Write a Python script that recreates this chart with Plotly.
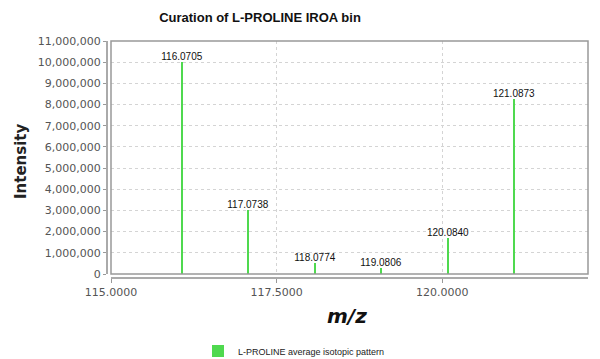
import plotly.graph_objects as go

mz = [116.0705, 117.0738, 118.0774, 119.0806, 120.0840, 121.0873]
intensity = [10000000, 3000000, 500000, 300000, 1700000, 8250000]
labels = ["116.0705", "117.0738", "118.0774", "119.0806", "120.0840", "121.0873"]
x_ticks = [115.0, 117.5, 120.0]
x_tick_labels = ["115.0000", "117.5000", "120.0000"]
y_ticks = list(range(0, 11000001, 1000000))
series_name = "L-PROLINE average isotopic pattern"
title = "Curation of L-PROLINE IROA bin"

fig = go.Figure()
fig.add_trace(go.Bar(
    x=mz, y=intensity, width=0.024, name=series_name,
    marker=dict(color="#4fd94f", line=dict(width=0)),
    text=labels, textposition="outside", cliponaxis=False, constraintext="none",
    textfont=dict(family="Liberation Sans, Arial", size=10, color="#111"),
    showlegend=True,
))

grid = dict(showgrid=True, gridcolor="#d4d4d4", griddash="dot", gridwidth=1)
fig.update_layout(
    width=600, height=359,
    margin=dict(l=107, r=12, t=41, b=81, autoexpand=False),
    paper_bgcolor="white", plot_bgcolor="white",
    title=dict(text="<b>" + title + "</b>", x=260/600, xanchor="center", y=1 - 17/359, yanchor="middle",
               font=dict(family="Liberation Sans, Arial", size=13, color="#111")),
    xaxis=dict(range=[115, 122.2], domain=[4/481, 1], anchor="free", position=0,
               tickvals=x_ticks, ticktext=x_tick_labels, ticks="outside", ticklen=4,
               tickcolor="#999", showline=True, linecolor="#aaa", linewidth=2,
               tickfont=dict(family="DejaVu Sans", size=11, color="#555"), zeroline=False, **grid),
    yaxis=dict(range=[0, 11000000], domain=[4/237, 1], anchor="free", position=0,
               tickvals=y_ticks, tickformat=",d", ticks="outside", ticklen=3,
               tickcolor="#999", showline=True, linecolor="#aaa", linewidth=2,
               tickfont=dict(family="DejaVu Sans", size=11, color="#555"), zeroline=False, **grid),
    legend=dict(orientation="h", x=294/600, xanchor="center", xref="container",
                y=8/359, yanchor="middle", yref="container", itemwidth=30,
                font=dict(family="Liberation Sans, Arial", size=9, color="#222")),
    bargap=0,
    shapes=[dict(type="rect", xref="x domain", yref="y domain", x0=0, x1=1, y0=0, y1=1,
                 line=dict(color="#999", width=1.5), fillcolor="rgba(0,0,0,0)", layer="above")],
    annotations=[
        dict(text="<b>Intensity</b>", textangle=-90, xref="paper", yref="paper",
             x=-86/481, y=(274-157)/237, xanchor="center", yanchor="middle", showarrow=False,
             font=dict(family="DejaVu Sans", size=15, color="#222")),
        dict(text="<b><i>m/z</i></b>", xref="paper", yref="paper",
             x=(347-107)/481, y=-(316-278)/237, xanchor="center", yanchor="middle", showarrow=False,
             font=dict(family="DejaVu Sans", size=20, color="#111")),
    ],
)
fig.write_html("out.html", config={"displayModeBar": False},
               post_script="document.body.style.margin='0';document.body.style.overflow='hidden';")
